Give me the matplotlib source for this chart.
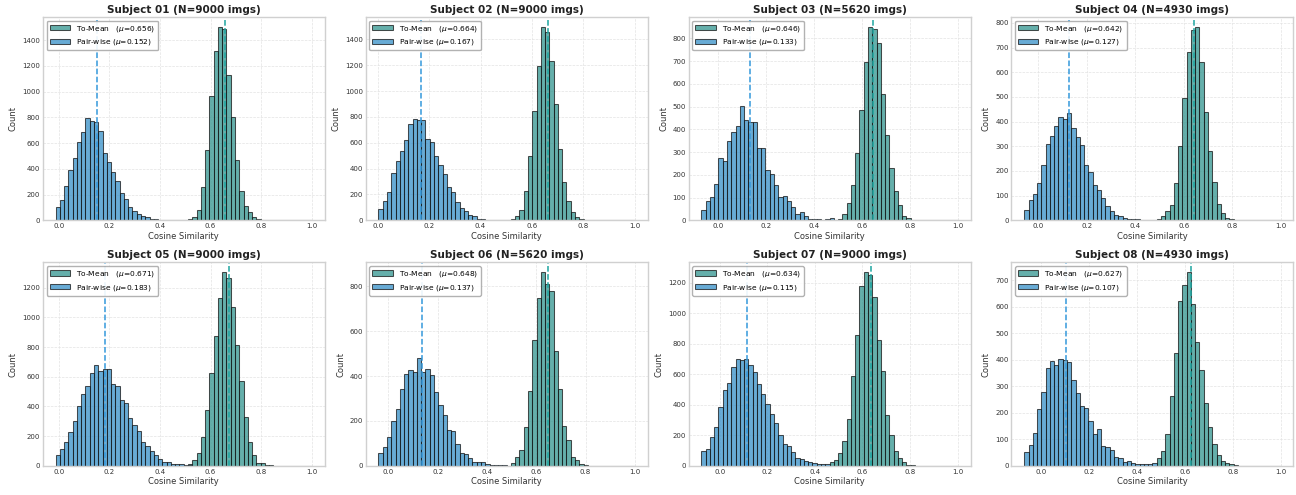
import matplotlib
matplotlib.use("Agg")
import matplotlib.pyplot as plt
import numpy as np

# Per-subject info
subjects = ['01', '02', '03', '04', '05', '06', '07', '08']
n_imgs = [9000, 9000, 5620, 4930, 9000, 5620, 9000, 4930]
mu_to_mean = [0.656, 0.664, 0.646, 0.642, 0.671, 0.648, 0.634, 0.627]
mu_pair = [0.152, 0.167, 0.133, 0.127, 0.183, 0.137, 0.115, 0.107]

# lowest cosine value per subject (histograms use 60 bins from here up to 1.0)
bin_lo = [-0.012, 0.003, -0.069, -0.058, -0.012, -0.040, -0.077, -0.069]
n_bins = 60

# Pair-wise counts, starting at the first bin
pair_01 = [101, 158, 265, 390, 483, 610, 686, 797, 769, 761, 694, 527, 452, 377, 309,
           213, 164, 106, 73, 47, 34, 29, 10, 8, 3, 2, 1]
pair_02 = [88, 152, 220, 367, 462, 535, 625, 747, 780, 775, 773, 630, 605, 501, 431,
           362, 258, 217, 142, 96, 70, 41, 31, 13, 10, 5, 5, 2, 2]
pair_03 = [44, 85, 104, 160, 273, 260, 350, 390, 416, 501, 440, 431, 434, 319, 319,
           222, 203, 154, 104, 109, 85, 59, 30, 35, 18, 8, 8, 5, 3, 4, 10]
pair_04 = [42, 83, 107, 153, 224, 309, 340, 382, 420, 409, 433, 373, 339, 304, 224,
           197, 145, 121, 91, 60, 37, 20, 16, 11, 7, 4, 4, 1]
pair_05 = [70, 113, 158, 230, 304, 403, 486, 538, 624, 676, 642, 651, 653, 552, 536,
           446, 421, 322, 275, 236, 160, 131, 97, 70, 45, 27, 23, 14, 9, 11, 7, 5]
pair_06 = [57, 86, 128, 198, 255, 343, 407, 428, 420, 480, 417, 431, 405, 331, 273,
           225, 161, 153, 97, 57, 52, 34, 16, 15, 16, 9, 4, 4, 3, 3]
pair_07 = [99, 107, 190, 254, 385, 495, 545, 650, 701, 696, 703, 661, 617, 536, 473,
           407, 342, 280, 204, 142, 129, 90, 50, 44, 33, 26, 20, 13, 9, 9]
pair_08 = [53, 79, 124, 216, 279, 369, 395, 380, 401, 400, 390, 322, 275, 227, 218,
           170, 119, 137, 73, 71, 58, 35, 28, 16, 19, 9, 8, 6, 6, 6, 9]

# To-mean counts and the bin index where they start
tm_start = [31, 31, 32, 30, 31, 31, 30, 31]
tm_01 = [10, 28, 80, 257, 548, 970, 1312, 1506, 1486, 1130, 803, 470, 231, 109, 65, 26, 10, 3]
tm_02 = [13, 30, 78, 225, 496, 842, 1194, 1499, 1457, 1232, 897, 548, 300, 150, 65, 23, 10]
tm_03 = [5, 28, 76, 157, 297, 487, 697, 852, 843, 781, 554, 373, 229, 128, 66, 19, 10, 3, 2]
tm_04 = [3, 7, 16, 37, 61, 152, 301, 495, 680, 770, 785, 640, 437, 281, 156, 68, 30, 9, 4, 1]
tm_05 = [14, 36, 86, 191, 376, 626, 874, 1133, 1306, 1268, 1072, 811, 574, 327, 158, 70,
         18, 18, 7, 2]
tm_06 = [12, 39, 69, 171, 332, 560, 750, 864, 812, 779, 511, 344, 179, 115, 39, 27, 9, 4, 1]
tm_07 = [24, 39, 85, 160, 307, 591, 860, 1178, 1270, 1250, 1106, 821, 624, 335, 199, 94,
         50, 24, 7, 2]
tm_08 = [29, 54, 120, 262, 426, 622, 683, 731, 612, 468, 363, 237, 148, 84, 40, 18, 10, 6, 2]

pair_counts = [pair_01, pair_02, pair_03, pair_04, pair_05, pair_06, pair_07, pair_08]
tm_counts = [tm_01, tm_02, tm_03, tm_04, tm_05, tm_06, tm_07, tm_08]

# Colors
tm_color = '#2a918b'
pair_color = '#2e8bc6'
tm_line = '#1ea5a0'
pair_line = '#3498db'
text_color = '#333333'


def full_weights(counts, start):
    w = np.zeros(n_bins)
    w[start:start + len(counts)] = counts
    return w


fig, axes = plt.subplots(2, 4, figsize=(12.96, 4.95), dpi=100)
plt.subplots_adjust(left=0.033, right=0.998, top=0.966, bottom=0.059,
                    wspace=0.145, hspace=0.206)

for i, ax in enumerate(axes.flat):
    edges = np.linspace(bin_lo[i], 1.0, n_bins + 1)
    centers = (edges[:-1] + edges[1:]) / 2

    ax.hist(centers, bins=edges, weights=full_weights(tm_counts[i], tm_start[i]),
            color=tm_color, alpha=0.72, edgecolor='#111111', linewidth=0.75,
            label=f'To-Mean   ($\\mu$={mu_to_mean[i]:.3f})')
    ax.hist(centers, bins=edges, weights=full_weights(pair_counts[i], 0),
            color=pair_color, alpha=0.72, edgecolor='#111111', linewidth=0.75,
            label=f'Pair-wise ($\\mu$={mu_pair[i]:.3f})')

    ax.axvline(mu_to_mean[i], color=tm_line, linestyle='--', linewidth=1.1)
    ax.axvline(mu_pair[i], color=pair_line, linestyle='--', linewidth=1.1)

    ax.set_title(f'Subject {subjects[i]} (N={n_imgs[i]} imgs)', fontsize=7.5,
                 fontweight='bold', color='#222222', pad=3)
    ax.set_xlabel('Cosine Similarity', fontsize=6, color=text_color, labelpad=2)
    ax.set_ylabel('Count', fontsize=6, color=text_color, labelpad=3)

    ax.grid(True, color='#e3e3e3', linestyle='--', linewidth=0.5)
    ax.set_axisbelow(True)
    for s in ax.spines.values():
        s.set_color('#d0d0d0')
        s.set_linewidth(1.0)
    ax.tick_params(length=0, labelsize=5, labelcolor=text_color, pad=2)

    leg = ax.legend(loc='upper left', fontsize=5.4, handlelength=2.7,
                    frameon=True, fancybox=True, framealpha=0.9)
    leg.get_frame().set_edgecolor('#aaaaaa')

plt.savefig('out.png', dpi=100, facecolor='white')
